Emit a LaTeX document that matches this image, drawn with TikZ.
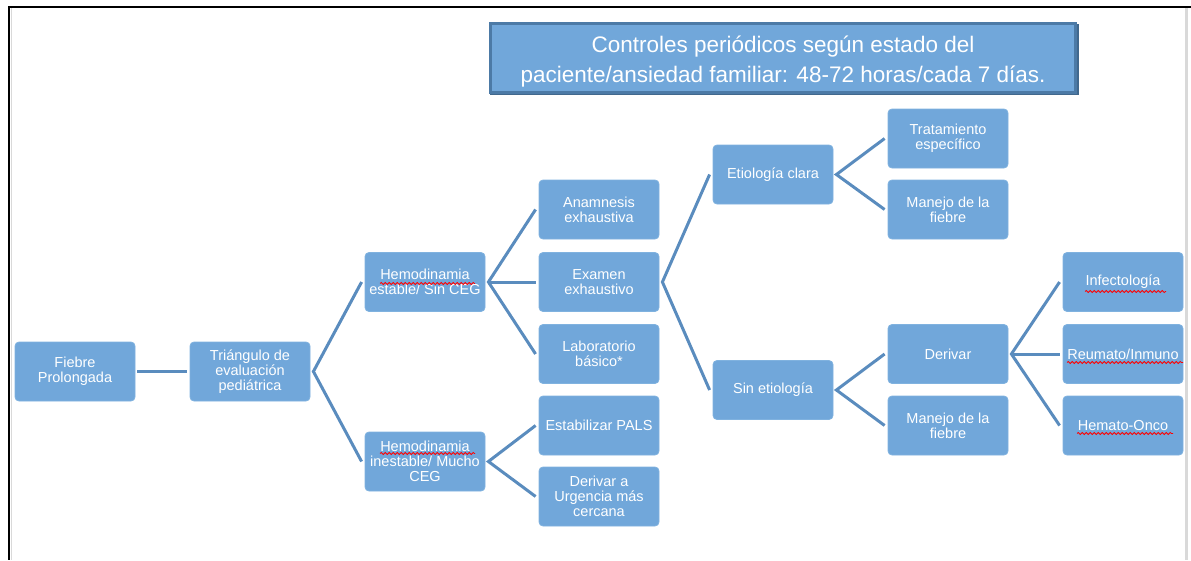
\documentclass[tikz,border=0pt]{standalone}
\usepackage{fontspec}
\setmainfont{Liberation Sans}
\usetikzlibrary{decorations.pathmorphing}
\definecolor{boxfill}{HTML}{71A7DA}
\definecolor{boxedge}{HTML}{80B2DF}
\definecolor{linkcol}{HTML}{5A8CBE}
\definecolor{banneredge}{HTML}{4C7AA6}
\definecolor{framegray}{HTML}{D9D9D9}
\begin{document}
\begin{tikzpicture}[x=1pt,y=-1pt,
  box/.style={rectangle, rounded corners=4pt, fill=boxfill, draw=boxedge, line width=0.8pt,
    minimum width=120pt, minimum height=59pt, text=white, align=center, inner sep=1pt,
    font=\fontsize{14.5}{15}\selectfont},
  banner/.style={rectangle, fill=boxfill, draw=banneredge, line width=3pt,
    minimum width=585pt, minimum height=69pt},
  bannertext/.style={text=white, align=center, inner sep=0pt,
    font=\fontsize{22.5}{30}\selectfont},
  link/.style={draw=linkcol, line width=3pt},
  squiggle/.style={draw=red, line width=0.8pt, decorate,
    decoration={snake, amplitude=1pt, segment length=4pt}},
  frameline/.style={draw=black, line width=2.5pt}]
\useasboundingbox (0,0) rectangle (1191,560);
% screenshot frame
\draw[frameline] (8,7) -- (1191,7);
\draw[frameline] (9,6) -- (9,560);
\draw[draw=framegray, line width=1pt] (11,8) -- (11,560);
\draw[draw=framegray, line width=3pt] (1186.5,8) -- (1186.5,560);

% banner (slight shadow on right/bottom)
\draw[draw=banneredge!85!black, line width=3pt] (491.5,25) rectangle (1077.5,93);
\node[banner, label={[bannertext, yshift=-4.5pt]center:Controles periódicos según estado del\\paciente/ansiedad familiar: 48-72 horas/cada 7 días.}] (banner) at (783,57.5) {};

% nodes
\node[box] (fiebre) at (75,371.5) {Fiebre\\Prolongada};
\node[box] (triang) at (250,371.5) {Triángulo de\\evaluación\\pediátrica};
\node[box] (hest) at (425,282) {Hemodinamia\\estable/ Sin CEG};
\node[box] (hinest) at (425,461.5) {Hemodinamia\\inestable/ Mucho\\CEG};
\node[box] (anam) at (599,209.5) {Anamnesis\\exhaustiva};
\node[box] (exam) at (599,282) {Examen\\exhaustivo};
\node[box] (lab) at (599,354) {Laboratorio\\básico*};
\node[box] (pals) at (599,425.5) {Estabilizar PALS};
\node[box] (urg) at (599,496.5) {Derivar a\\Urgencia más\\cercana};
\node[box] (etcl) at (773,174.5) {Etiología clara};
\node[box] (sinet) at (773,390) {Sin etiología};
\node[box] (trat) at (948,138.5) {Tratamiento\\específico};
\node[box] (man1) at (948,209.5) {Manejo de la\\fiebre};
\node[box] (deriv) at (948,354) {Derivar};
\node[box] (man2) at (948,425.5) {Manejo de la\\fiebre};
\node[box] (infec) at (1123,282) {Infectología};
\node[box] (reum) at (1123,354) {Reumato/Inmuno};
\node[box] (hemat) at (1123,425.5) {Hemato-Onco};

% connectors
\draw[link] ([xshift=2pt]fiebre.east) -- ([xshift=-3pt]triang.west);
\draw[link] ([xshift=-3pt]hest.west) -- ([xshift=3pt]triang.east) -- ([xshift=-3pt]hinest.west);
\draw[link] ([xshift=-3pt]anam.west) -- ([xshift=3pt]hest.east) -- ([xshift=-3pt]lab.west);
\draw[link] ([xshift=3pt]hest.east) -- ([xshift=-3pt]exam.west);
\draw[link] ([xshift=-3pt]pals.west) -- ([xshift=3pt]hinest.east) -- ([xshift=-3pt]urg.west);
\draw[link] ([xshift=-3pt]etcl.west) -- ([xshift=3pt]exam.east) -- ([xshift=-3pt]sinet.west);
\draw[link] ([xshift=-3pt]trat.west) -- ([xshift=3pt]etcl.east) -- ([xshift=-3pt]man1.west);
\draw[link] ([xshift=-3pt]deriv.west) -- ([xshift=3pt]sinet.east) -- ([xshift=-3pt]man2.west);
\draw[link] ([xshift=-3pt]infec.west) -- ([xshift=3pt]deriv.east) -- ([xshift=-3pt]hemat.west);
\draw[link] ([xshift=3pt]deriv.east) -- ([xshift=-3pt]reum.west);

% spell-check underlines
\draw[squiggle] (380,283.5) -- (475,283.5);
\draw[squiggle] (380,453.5) -- (475,453.5);
\draw[squiggle] (1085,291.5) -- (1166,291.5);
\draw[squiggle] (1067,362.5) -- (1183,362.5);
\draw[squiggle] (1077,433.5) -- (1173,433.5);
\end{tikzpicture}
\end{document}
